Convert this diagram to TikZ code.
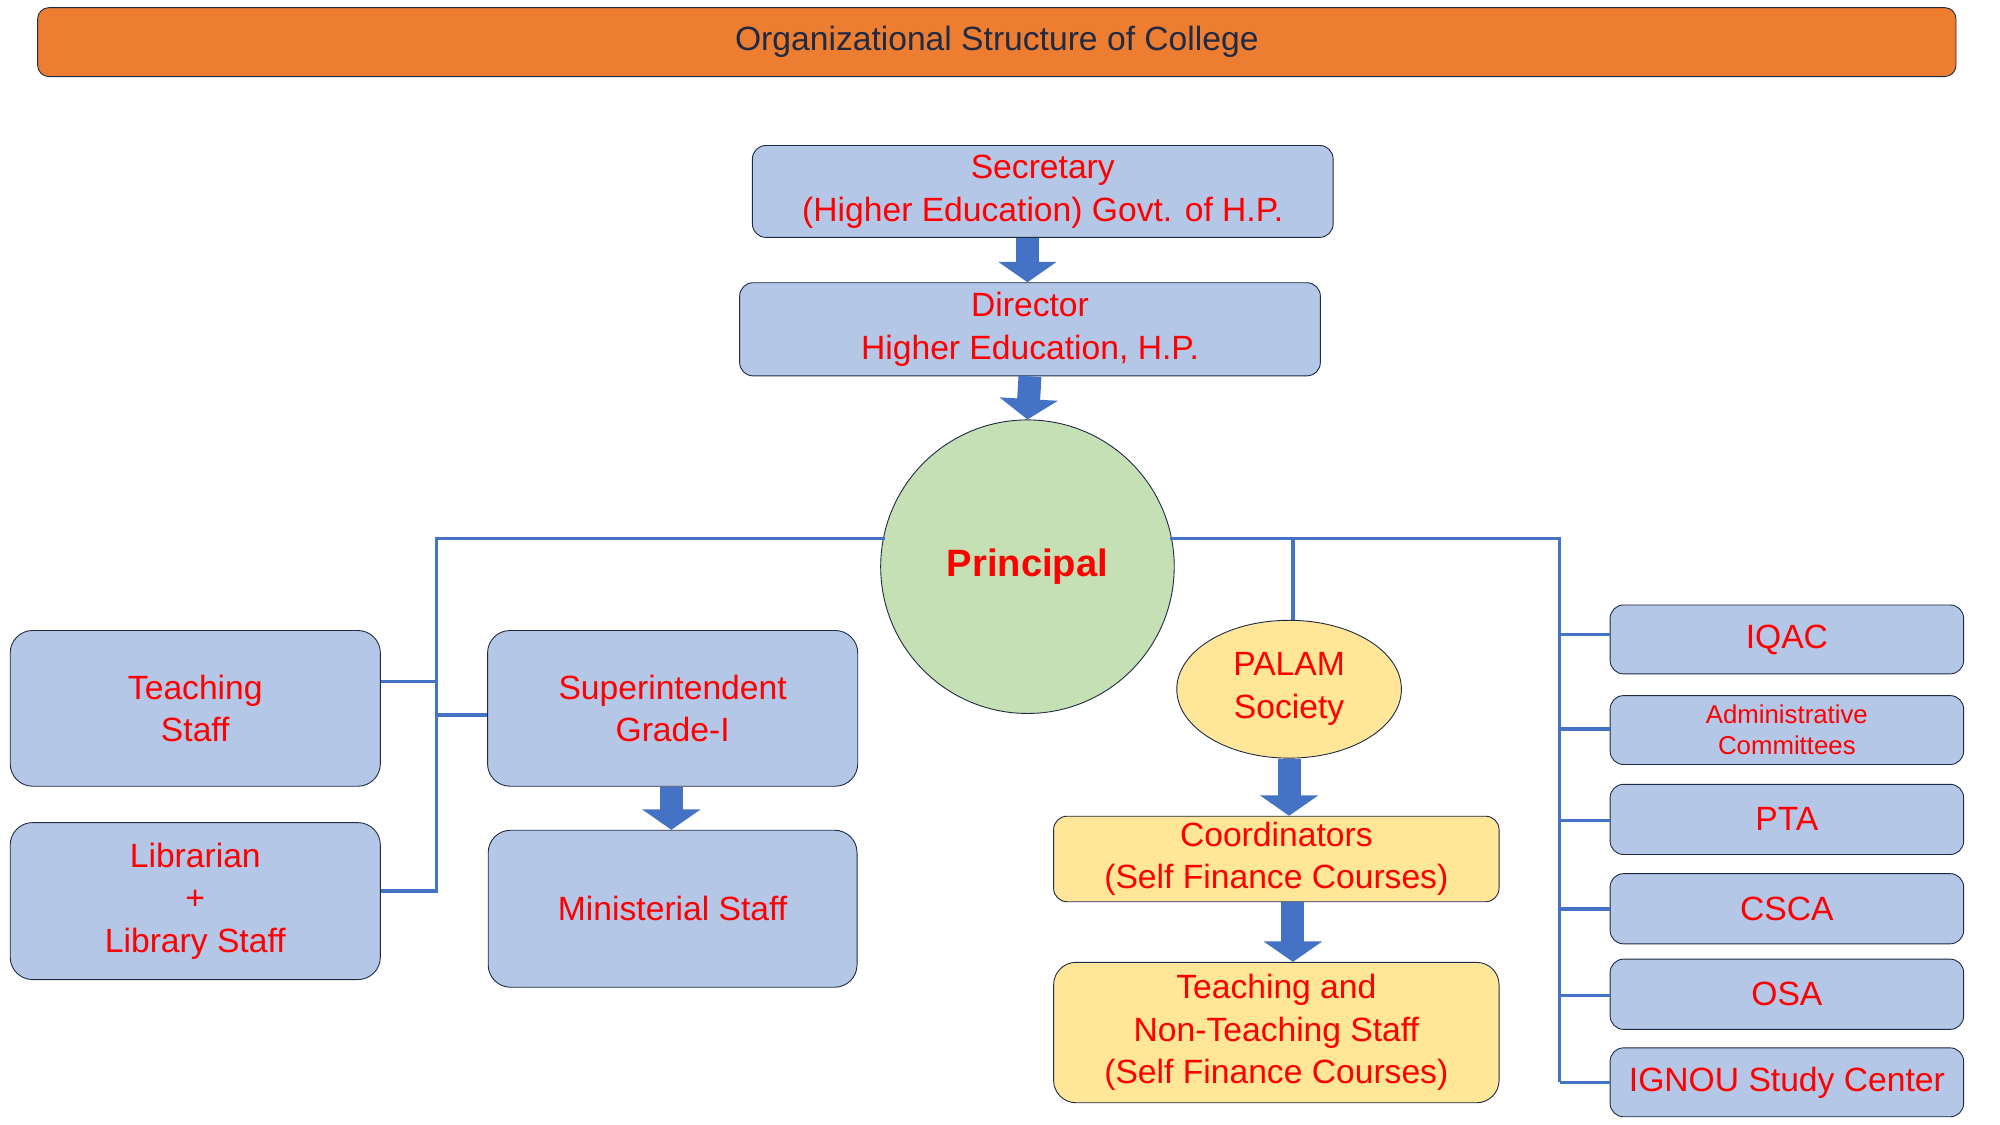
\documentclass[tikz,border=0pt]{standalone}
\usepackage{fontspec}
\setmainfont{Liberation Sans}
\usetikzlibrary{arrows.meta,shapes.geometric}
\definecolor{boxblue}{HTML}{B4C7E7}
\definecolor{linkblue}{HTML}{4472C4}
\definecolor{titleorange}{HTML}{ED7D31}
\definecolor{navy}{HTML}{1F2A44}
\definecolor{sfyellow}{HTML}{FFE699}
\definecolor{prgreen}{HTML}{C5E0B4}
\begin{document}
\begin{tikzpicture}[x=0.02cm,y=-0.02cm,
    box/.style = {draw=navy, fill=boxblue, rounded corners=6pt, text=red, align=center, font=\fontsize{15}{19}\selectfont, inner sep=0pt},
    sfbox/.style = {box, fill=sfyellow},
    link/.style = {draw=linkblue, line width=1.6pt},
    push/.style = {draw=linkblue, line width=0.36cm, -{Triangle[width=0.9cm,length=0.32cm]}, shorten <=0pt}]
    \useasboundingbox (0,0) rectangle (1567,881);

    \node[box, fill=titleorange, text=navy, minimum width=1503*0.02cm, minimum height=54*0.02cm, rounded corners=5pt] (title) at (781,33) {Organizational Structure of College};

    \node[box, minimum width=455*0.02cm, minimum height=72*0.02cm] (sec) at (817,150) {Secretary\\(Higher Education) Govt. of H.P.};
    \node[box, minimum width=455*0.02cm, minimum height=73*0.02cm] (dir) at (807,258) {Director\\Higher Education, H.P.};
    \node[circle, draw=navy, fill=prgreen, minimum size=230*0.02cm, text=red, font=\fontsize{17}{20}\selectfont\bfseries] (prin) at (805,444) {Principal};

    \node[box, minimum width=290*0.02cm, minimum height=122*0.02cm, rounded corners=10pt] (teach) at (153,555) {Teaching\\Staff};
    \node[box, minimum width=290*0.02cm, minimum height=123*0.02cm, rounded corners=10pt] (lib) at (153,706) {Librarian\\+\\Library Staff};
    \node[box, minimum width=290*0.02cm, minimum height=122*0.02cm, rounded corners=10pt] (supt) at (527,555) {Superintendent\\Grade-I};
    \node[box, minimum width=289*0.02cm, minimum height=123*0.02cm, rounded corners=10pt] (mini) at (527,712) {Ministerial Staff};

    \node[ellipse, draw=navy, fill=sfyellow, minimum width=176*0.02cm, minimum height=108*0.02cm, text=red, align=center, font=\fontsize{15}{19}\selectfont, inner sep=0pt] (palam) at (1010,540) {PALAM\\Society};
    \node[sfbox, minimum width=349*0.02cm, minimum height=67*0.02cm] (coord) at (1000,673) {Coordinators\\(Self Finance Courses)};
    \node[sfbox, minimum width=349*0.02cm, minimum height=110*0.02cm, rounded corners=10pt] (sfstaff) at (1000,809) {Teaching and\\Non-Teaching Staff\\(Self Finance Courses)};

    \node[box, minimum width=277*0.02cm, minimum height=54*0.02cm] (iqac) at (1400,501) {IQAC};
    \node[box, minimum width=277*0.02cm, minimum height=54*0.02cm, font=\fontsize{11.5}{14}\selectfont] (admin) at (1400,572) {Administrative\\Committees};
    \node[box, minimum width=277*0.02cm, minimum height=55*0.02cm] (pta) at (1400,642) {PTA};
    \node[box, minimum width=277*0.02cm, minimum height=55*0.02cm] (csca) at (1400,712) {CSCA};
    \node[box, minimum width=277*0.02cm, minimum height=55*0.02cm] (osa) at (1400,779) {OSA};
    \node[box, minimum width=277*0.02cm, minimum height=54*0.02cm] (ignou) at (1400,848) {IGNOU Study Center};

    % block arrows
    \draw[push] ([xshift=-12*0.02cm]sec.south) -- ([xshift=-2*0.02cm]dir.north);
    \draw[push] (dir.south) -- (prin.north);
    \draw[push] ([xshift=-1*0.02cm]supt.south) -- ([xshift=-1*0.02cm]mini.north);
    \draw[push] (palam.south) -- ([xshift=10*0.02cm]coord.north);
    \draw[push] ([xshift=13*0.02cm]coord.south) -- ([xshift=13*0.02cm]sfstaff.north);

    % left branch
    \coordinate (lbus) at (342,422);
    \draw[link] (prin.west |- lbus) ++(4,0) -- (lbus) |- (lib.east |- 0,698);
    \draw[link] (teach.east |- 0,534) -- (342,534);
    \draw[link] (342,560) -- (supt.west |- 0,560);

    % right branch
    \coordinate (rbus) at (1222,422);
    \draw[link] (prin.east |- rbus) ++(-4,0) -- (rbus) -- (1222,848);
    \draw[link] (1013,422) -- (1013,486);
    \foreach \n/\y in {iqac/497,admin/571,pta/643,csca/712,osa/780,ignou/848}
        \draw[link] (1222,\y) -- (\n.west |- 0,\y);
\end{tikzpicture}
\end{document}
